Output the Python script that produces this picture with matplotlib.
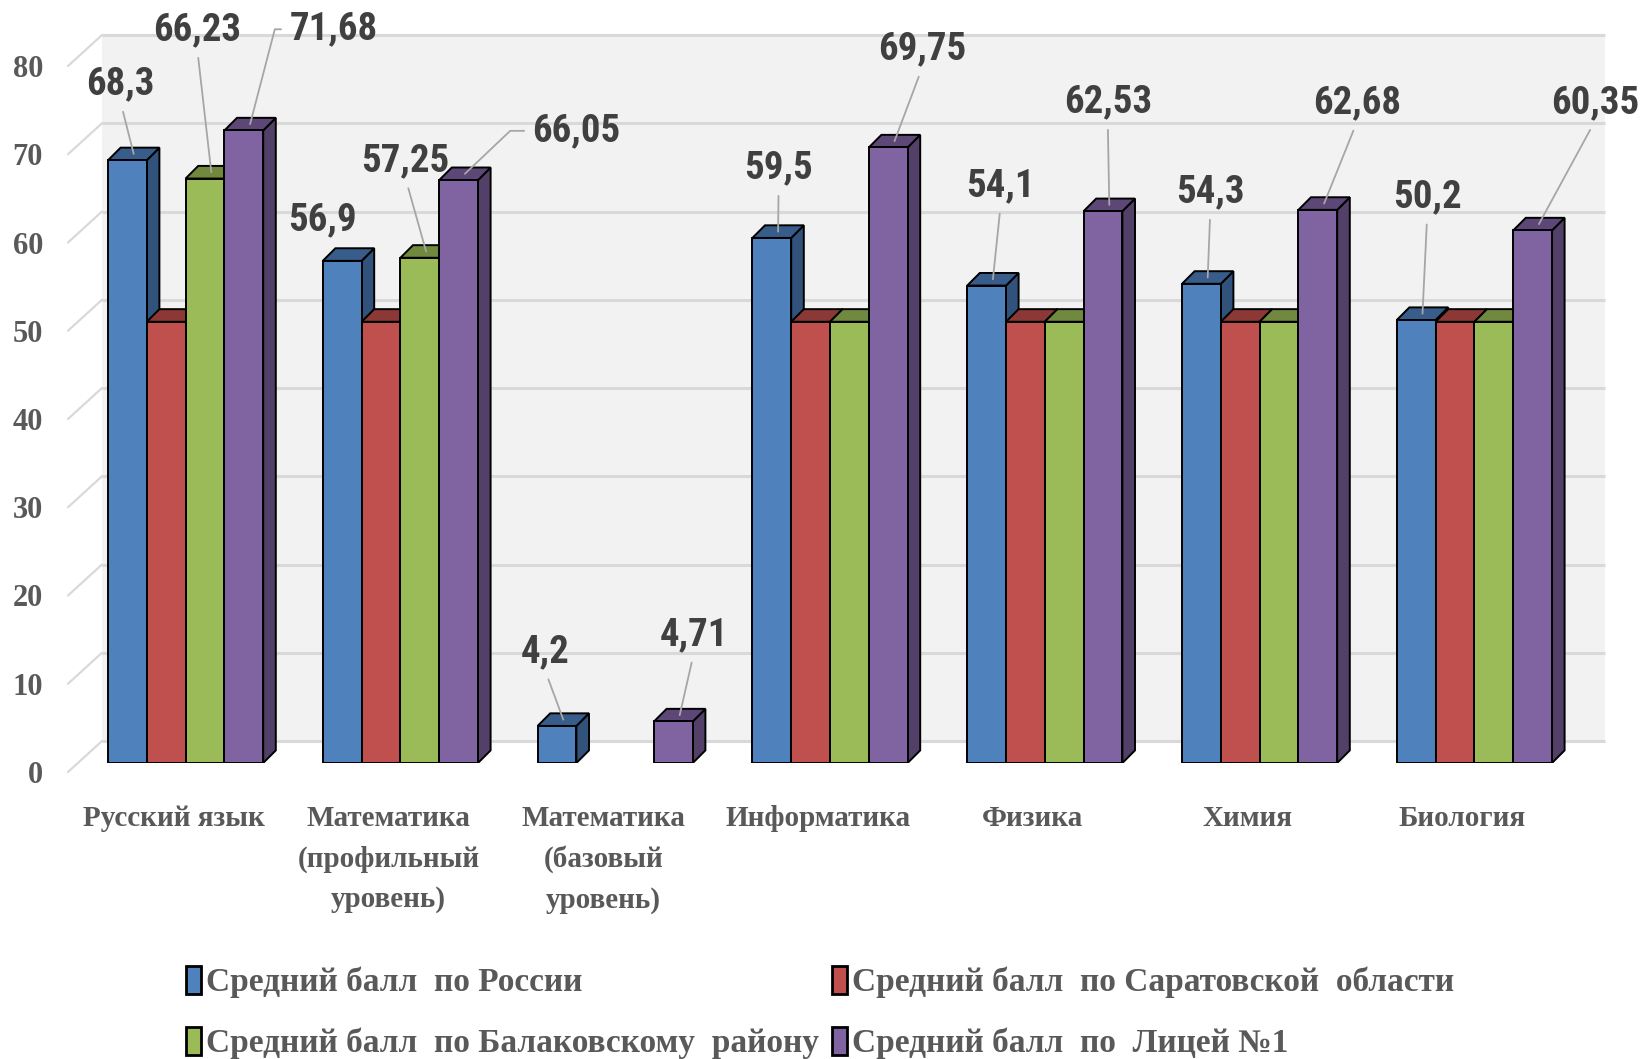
import matplotlib
matplotlib.use('Agg')
import matplotlib.pyplot as plt
from matplotlib import transforms, font_manager
from matplotlib.patches import Rectangle, Polygon

# ---------------- data ----------------
categories = ['Русский язык', 'Математика\n(профильный\nуровень)',
              'Математика\n(базовый\nуровень)', 'Информатика',
              'Физика', 'Химия', 'Биология']
series_names = ['Средний балл  по России',
                'Средний балл  по Саратовской  области',
                'Средний балл  по Балаковскому  району',
                'Средний балл  по  Лицей №1']
russia = [68.3, 56.9, 4.2, 59.5, 54.1, 54.3, 50.2]
saratov = [50, 50, None, 50, 50, 50, 50]
balakovo = [66.23, 57.25, None, 50, 50, 50, 50]
lyceum = [71.68, 66.05, 4.71, 69.75, 62.53, 62.68, 60.35]
yticks = [0, 10, 20, 30, 40, 50, 60, 70, 80]

# which values carry a label (series index -> category indices)
labelled = {0: [0, 1, 2, 3, 4, 5, 6], 2: [0, 1], 3: [0, 1, 2, 3, 4, 5, 6]}

# ---------------- style ----------------
front_cols = ['#4F81BD', '#C0504D', '#9BBB59', '#8064A2']
top_cols = ['#385D8A', '#8C3836', '#71893F', '#5C4776']
side_cols = ['#31527B', '#7E3230', '#657B38', '#524069']


def has_font(name, weight='bold'):
    try:
        font_manager.findfont(font_manager.FontProperties(family=name, weight=weight),
                              fallback_to_default=False)
        return True
    except Exception:
        return False


if has_font('Roboto Condensed'):
    lab_font = dict(family=['Roboto Condensed', 'DejaVu Sans'], size=28)
elif has_font('Liberation Sans Narrow'):
    lab_font = dict(family=['Liberation Sans Narrow', 'DejaVu Sans'], size=28)
else:
    lab_font = dict(family=['Liberation Sans', 'DejaVu Sans'], size=24)
serif = ['Liberation Serif', 'DejaVu Serif']

W, H = 1643, 1059
fig = plt.figure(figsize=(W / 100, H / 100), dpi=100)
ax_left, ax_right, ax_top, ax_bot = 80, 1583, 57, 763
ax = fig.add_axes([ax_left / W, (H - ax_bot) / H,
                   (ax_right - ax_left) / W, (ax_bot - ax_top) / H])
px_per_x = 214.8
x0 = (ax_left - 185.6) / px_per_x
x1 = (ax_right - 185.6) / px_per_x
ax.set_xlim(x0, x1)
ax.set_ylim(0, 80)
ax.patch.set_visible(False)
for s in ax.spines.values():
    s.set_visible(False)

px_per_y = (ax_bot - ax_top) / 80.0
wall_dx, wall_dy = 22 / px_per_x, 22 / px_per_y
depth_dx, depth_dy = 12.6 / px_per_x, 12.6 / px_per_y
bw = 38.8 / px_per_x

grid_col = '#D9D9D9'
front_shift = transforms.ScaledTranslation(-12 / 100, -9 / 100, fig.dpi_scale_trans)
# back wall
ax.add_patch(Rectangle((x0 + wall_dx, wall_dy), x1 - x0, 80, facecolor='#F2F2F2',
                       edgecolor='none', zorder=0, clip_on=False))
tick_tr = ax.transData + front_shift
for v in yticks:
    ax.plot([x0 + wall_dx, x1 + wall_dx], [v + wall_dy, v + wall_dy], color=grid_col,
            lw=2.2, zorder=1, clip_on=False, solid_capstyle='butt')
    ax.annotate('', xy=(x0 + wall_dx, v + wall_dy), xycoords='data',
                xytext=(x0, v), textcoords=tick_tr,
                arrowprops=dict(arrowstyle='-', color=grid_col, lw=1.6,
                                shrinkA=0, shrinkB=0), zorder=1, annotation_clip=False)

# y tick labels
ax.set_yticks(yticks)
ax.set_yticklabels([str(v) for v in yticks], fontfamily=serif, fontsize=22,
                   fontweight='bold', color='#595959')
ax.tick_params(axis='y', length=0, pad=18)
for t in ax.get_yticklabels():
    t.set_transform(t.get_transform() + front_shift)

# x tick labels
ax.set_xticks(range(len(categories)))
ax.set_xticklabels(categories, fontfamily=serif, fontsize=21, fontweight='bold',
                   color='#595959', linespacing=1.62)
ax.tick_params(axis='x', length=0, pad=24)
for t in ax.get_xticklabels():
    t.set_transform(t.get_transform() + front_shift)

# bars
all_series = [russia, saratov, balakovo, lyceum]
for g in range(len(categories)):
    for k, ser in enumerate(all_series):
        v = ser[g]
        if v is None:
            continue
        z = 3 + g * 10 + k * 2
        L = g + (k - 2) * bw
        R = L + bw
        side = Polygon([(R, 0), (R + depth_dx, depth_dy), (R + depth_dx, v + depth_dy), (R, v)],
                       closed=True, facecolor=side_cols[k], edgecolor='black', lw=1.4,
                       zorder=z, joinstyle='miter')
        top = Polygon([(L, v), (R, v), (R + depth_dx, v + depth_dy), (L + depth_dx, v + depth_dy)],
                      closed=True, facecolor=top_cols[k], edgecolor='black', lw=1.4,
                      zorder=z, joinstyle='miter')
        ax.add_patch(side)
        ax.add_patch(top)
        ax.bar(L, v, width=bw, align='edge', color=front_cols[k], edgecolor='black',
               lw=1.4, zorder=z + 1)

# data labels: offsets (px, in shrunk reference units) from top face centre
label_offsets = {
    0: [(-12.5, -67), (-24.5, -33), (-17.5, -65), (0.5, -61), (7.5, -89.5), (2.5, -82), (4.5, -112)],
    2: [(-13.5, -136), (-19.5, -87)],
    3: [(37.5, -90.5), (64.5, -41), (13.5, -77), (26.5, -88), (-1.5, -98.5), (31.5, -96), (53.5, -116)],
}
elbow = {(3, 0): 75.4, (3, 1): 43.5}
no_leader = {(0, 1)}
sc = 1.048
for si, idxs in labelled.items():
    for j, g in enumerate(idxs):
        v = all_series[si][g]
        cx = g + (si - 2) * bw + bw / 2 + depth_dx / 2
        cy = v + depth_dy / 2
        dx, dy = label_offsets[si][j]
        txt = str(v).replace('.', ',')
        if (si, g) in elbow:
            ap = dict(arrowstyle='-', color='#A6A6A6', lw=1.3, shrinkA=4, shrinkB=0,
                      relpos=(0, 0.5),
                      connectionstyle='angle,angleA=0,angleB=%g,rad=0' % elbow[(si, g)])
            ha = 'left'
        elif (si, g) in no_leader:
            ap = None
            ha = 'center'
        else:
            ap = dict(arrowstyle='-', color='#A6A6A6', lw=1.3, shrinkA=5, shrinkB=0,
                      relpos=(0.5, 0))
            ha = 'center'
        ax.annotate(txt, xy=(cx, cy), xytext=(dx * sc, -dy * sc), textcoords='offset pixels',
                    ha=ha, va='center', color='#404040', fontweight='bold',
                    arrowprops=ap, zorder=200, annotation_clip=False, **lab_font)

# legend
handles = [Rectangle((0, 0), 1, 1, facecolor=c, edgecolor='black', lw=2) for c in front_cols]
order = [0, 2, 1, 3]
fig.legend([handles[i] for i in order], [series_names[i] for i in order],
           ncol=2, loc='upper left', bbox_to_anchor=(186 / W, 1 - 966 / H), frameon=False,
           prop=dict(family=serif, size=24, weight='bold'), labelcolor='#595959',
           handlelength=0.45, handleheight=0.9, handletextpad=0.15, columnspacing=0.4,
           labelspacing=0.86, borderpad=0, borderaxespad=0)

fig.savefig('out.png', dpi=100)
